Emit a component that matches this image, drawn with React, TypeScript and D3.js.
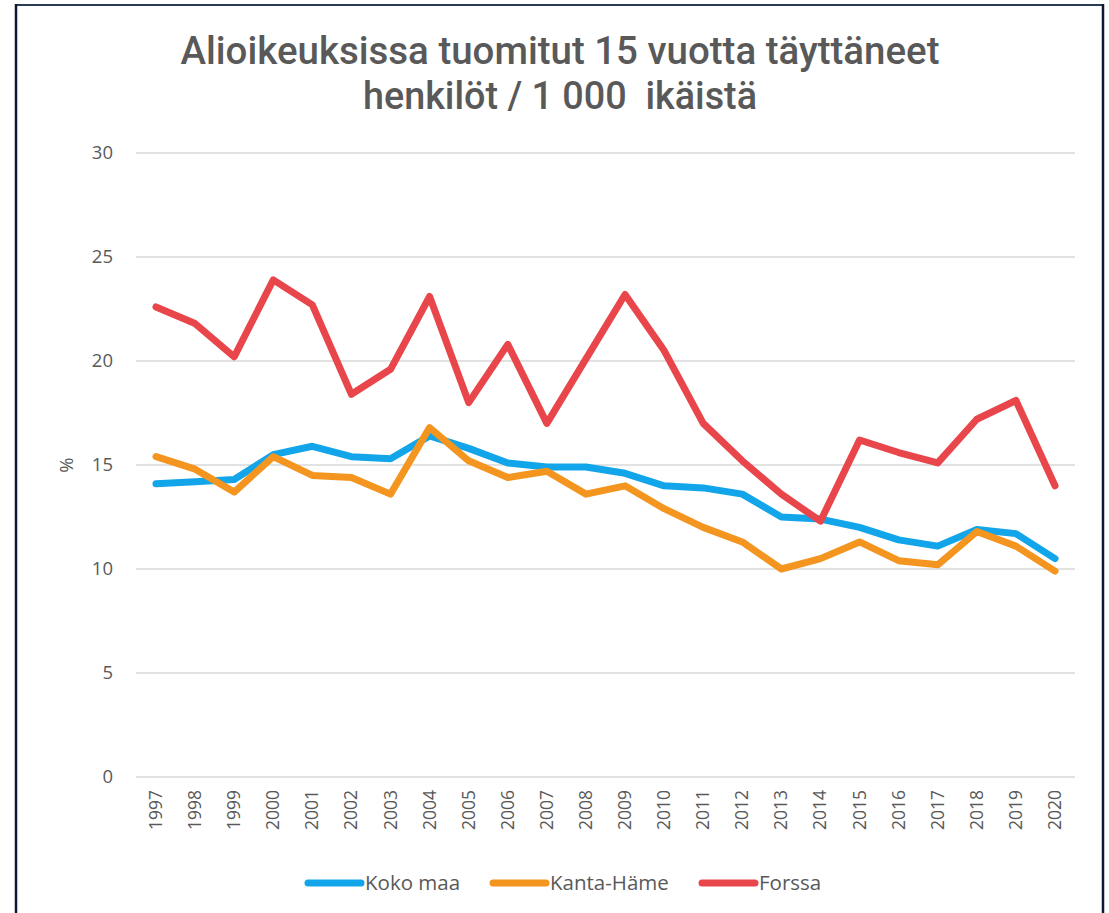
import React from "react";
import * as d3 from "d3";

const years = ["1997","1998","1999","2000","2001","2002","2003","2004","2005","2006","2007","2008","2009","2010","2011","2012","2013","2014","2015","2016","2017","2018","2019","2020"];
const kokoMaa = [14.1,14.2,14.3,15.5,15.9,15.4,15.3,16.4,15.8,15.1,14.9,14.9,14.6,14.0,13.9,13.6,12.5,12.4,12.0,11.4,11.1,11.9,11.7,10.5];
const kantaHame = [15.4,14.8,13.7,15.4,14.5,14.4,13.6,16.8,15.2,14.4,14.7,13.6,14.0,12.9,12.0,11.3,10.0,10.5,11.3,10.4,10.2,11.8,11.1,9.9];
const forssa = [22.6,21.8,20.2,23.9,22.7,18.4,19.6,23.1,18.0,20.8,17.0,20.1,23.2,20.5,17.0,15.2,13.6,12.3,16.2,15.6,15.1,17.2,18.1,14.0];
const yTicks = [0,5,10,15,20,25,30];
const seriesNames = ["Koko maa","Kanta-Häme","Forssa"];
const seriesColors = ["#12a5e9","#f3951f","#e8464b"];
const titleLines = ["Alioikeuksissa tuomitut 15 vuotta täyttäneet","henkilöt / 1 000  ikäistä"];

export default function App() {
  const W = 1109, H = 913;
  const x = d3.scalePoint<string>().domain(years).range([156, 1055]);
  const y = d3.scaleLinear().domain([0, 30]).range([777, 153]);
  const line = d3.line<number>().x((_, i) => x(years[i])!).y(d => y(d));
  const allSeries = [kokoMaa, kantaHame, forssa];
  const tickFont = "'Open Sans', 'Noto Sans', sans-serif";
  const titleFont = "Roboto, 'Noto Sans', sans-serif";
  const legendX = [305, 490, 699];
  return (
    <svg width={W} height={H} style={{ position: "absolute", left: 0, top: 0, background: "#fff" }}>
      <rect x={0} y={0} width={W} height={H} fill="#fff" />
      {/* frame */}
      <line x1={15} y1={5} x2={1104} y2={5} stroke="#2a3b55" strokeWidth={2} />
      <line x1={16} y1={4} x2={16} y2={H} stroke="#0b1a33" strokeWidth={2.5} />
      <line x1={1103} y1={4} x2={1103} y2={H} stroke="#0b1a33" strokeWidth={2.5} />
      {/* title */}
      <text x={560} y={64} textAnchor="middle" fontFamily={titleFont} fontWeight={500} fontSize={39} fill="#595959" textLength={759} lengthAdjust="spacingAndGlyphs">{titleLines[0]}</text>
      <text x={560} y={109} textAnchor="middle" fontFamily={titleFont} fontWeight={500} fontSize={39} fill="#595959" textLength={394} lengthAdjust="spacingAndGlyphs" style={{ whiteSpace: "pre" }}>{titleLines[1]}</text>
      {/* grid */}
      {yTicks.map(t => (
        <g key={t}>
          <line x1={136} x2={1075} y1={y(t)} y2={y(t)} stroke="#d9d9d9" strokeWidth={1.5} />
          <text x={113} y={y(t) + 6} textAnchor="end" fontFamily={tickFont} fontSize={18.5} fill="#595959">{t}</text>
        </g>
      ))}
      <text transform={`translate(73,${y(15)}) rotate(-90)`} textAnchor="middle" fontFamily={tickFont} fontSize={18.5} fill="#595959">%</text>
      {years.map(yr => (
        <text key={yr} transform={`translate(${x(yr)! + 6},790) rotate(-90)`} textAnchor="end" fontFamily={tickFont} fontSize={17.5} fill="#595959">{yr}</text>
      ))}
      {allSeries.map((s, i) => (
        <path key={i} d={line(s) || ""} fill="none" stroke={seriesColors[i]} strokeWidth={7} strokeLinejoin="round" strokeLinecap="round" />
      ))}
      {seriesNames.map((n, i) => (
        <g key={n}>
          <line x1={legendX[i] + 3} x2={legendX[i] + 56} y1={883} y2={883} stroke={seriesColors[i]} strokeWidth={7} strokeLinecap="round" />
          <text x={legendX[i] + 60} y={890} fontFamily={tickFont} fontSize={20.5} fill="#595959">{n}</text>
        </g>
      ))}
    </svg>
  );
}
